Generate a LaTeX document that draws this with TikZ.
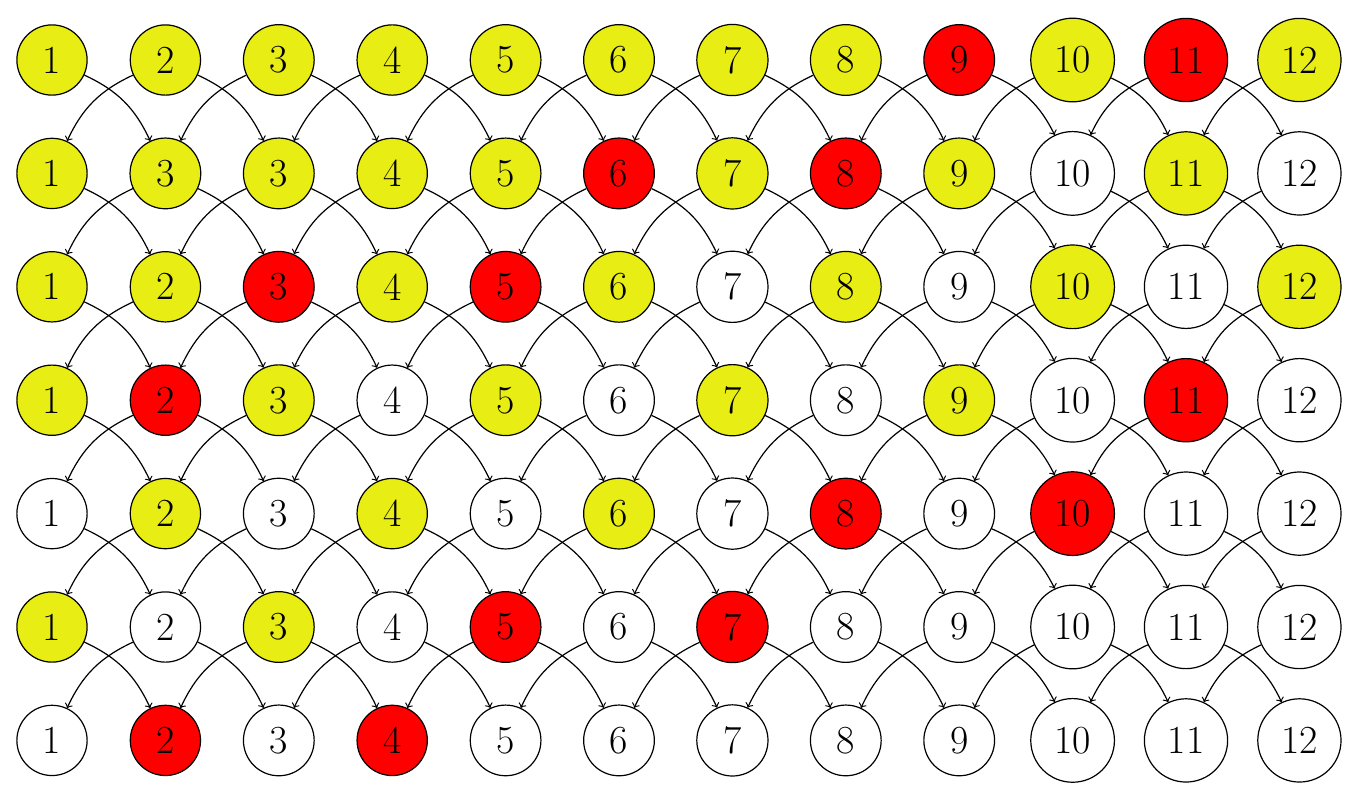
\documentclass[tikz,border=0pt]{standalone}
\definecolor{yel}{rgb}{0.91,0.93,0.08}
\begin{document}
\begin{tikzpicture}[x=56.7pt,y=56.7pt,
  nd/.style={circle,draw,line width=0.6pt,inner sep=6.8pt,font=\fontsize{19.9}{24}\selectfont},
  Y/.style={nd,fill=yel}, R/.style={nd,fill=red}, W/.style={nd,fill=white},
  arr/.style={->,line width=0.6pt}]
\useasboundingbox (-26pt,30pt) rectangle (654pt,-370pt);
\foreach \row [count=\i from 0] in {
 {Y/1,Y/2,Y/3,Y/4,Y/5,Y/6,Y/7,Y/8,R/9,Y/10,R/11,Y/12},
 {Y/1,Y/3,Y/3,Y/4,Y/5,R/6,Y/7,R/8,Y/9,W/10,Y/11,W/12},
 {Y/1,Y/2,R/3,Y/4,R/5,Y/6,W/7,Y/8,W/9,Y/10,W/11,Y/12},
 {Y/1,R/2,Y/3,W/4,Y/5,W/6,Y/7,W/8,Y/9,W/10,R/11,W/12},
 {W/1,Y/2,W/3,Y/4,W/5,Y/6,W/7,R/8,W/9,R/10,W/11,W/12},
 {Y/1,W/2,Y/3,W/4,R/5,W/6,R/7,W/8,W/9,W/10,W/11,W/12},
 {W/1,R/2,W/3,R/4,W/5,W/6,W/7,W/8,W/9,W/10,W/11,W/12}} {
  \foreach \c/\t [count=\j from 0] in \row {
    \node[\c] (n\i-\j) at (\j,-\i) {\t};
  }
}
\foreach \i in {0,...,5} {
  \pgfmathtruncatemacro\k{\i+1}
  \foreach \j in {0,...,11} {
    \pgfmathtruncatemacro\jp{\j+1}
    \pgfmathtruncatemacro\jm{\j-1}
    \ifnum\j<11 \draw[arr] (n\i-\j) to[bend left=20] (n\k-\jp); \fi
    \ifnum\j>0 \draw[arr] (n\i-\j) to[bend right=20] (n\k-\jm); \fi
  }
}
\end{tikzpicture}
\end{document}
